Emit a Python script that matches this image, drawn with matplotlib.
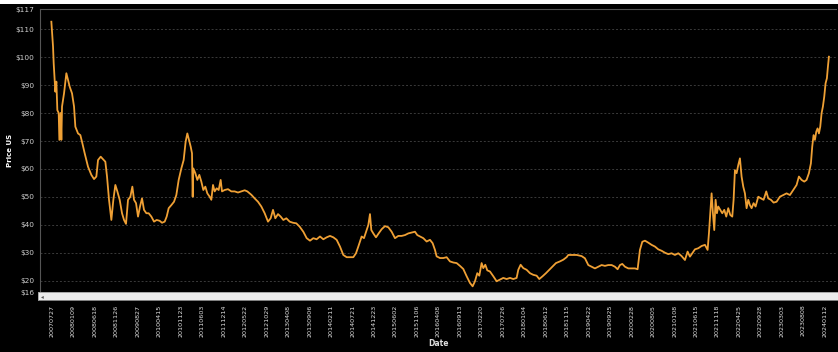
import matplotlib
matplotlib.use("Agg")
import matplotlib.pyplot as plt
from matplotlib.patches import Rectangle

# ---- data (x in units of tick-label slots, y in US$) ----
pos_a = [-0.031, 0.047, 0.078, 0.124, 0.155, 0.202, 0.248, 0.311, 0.342, 0.404, 0.435, 0.466,
         0.559, 0.668, 0.745, 0.823, 0.932, 1.025, 1.087, 1.211, 1.320, 1.413, 1.522, 1.677,
         1.832, 1.957, 2.065, 2.143, 2.267, 2.376, 2.484, 2.562, 2.655, 2.764, 2.857, 2.950,
         3.043, 3.152, 3.261, 3.354, 3.447, 3.540, 3.649, 3.742, 3.820, 3.913, 4.006, 4.099,
         4.192, 4.285, 4.394, 4.503, 4.627, 4.751, 4.875, 5.015, 5.124, 5.248, 5.341, 5.434,
         5.558, 5.682, 5.791, 5.900, 6.024, 6.132, 6.225, 6.303, 6.381, 6.459, 6.521, 6.552,
         6.583, 6.676, 6.769, 6.862, 6.955, 7.048, 7.142, 7.235, 7.344, 7.421, 7.499, 7.577,
         7.670, 7.763, 7.856, 7.918, 8.042, 8.197, 8.353, 8.508, 8.663, 8.818, 8.974, 9.098,
         9.284, 9.440, 9.595, 9.750, 9.906, 10.061, 10.185, 10.294, 10.402, 10.527, 10.651,
         10.775, 10.915, 11.070, 11.225, 11.380, 11.536]
price_a = [112.6, 103.7, 97.7, 91.8, 87.6, 91.2, 81.0, 80.0, 70.4, 80.0, 70.4, 82.3,
           87.0, 94.2, 91.8, 89.4, 87.0, 82.3, 75.1, 72.7, 72.1, 69.2, 65.6, 60.8,
           57.9, 56.4, 57.3, 63.2, 64.4, 63.5, 62.6, 57.3, 49.0, 41.8, 49.0, 54.3,
           52.0, 49.0, 44.2, 41.8, 40.4, 49.0, 50.1, 53.7, 49.0, 47.8, 43.0, 46.6,
           49.5, 45.4, 44.2, 44.2, 43.0, 41.2, 41.8, 41.5, 40.8, 41.2, 43.0, 46.0,
           47.1, 48.3, 50.7, 56.1, 60.2, 63.2, 69.8, 72.7, 70.4, 68.0, 65.6, 50.1,
           60.2, 58.5, 56.1, 57.9, 55.5, 52.5, 53.7, 51.3, 50.1, 49.0, 54.3, 52.0,
           53.1, 52.5, 56.1, 52.0, 52.5, 52.8, 52.0, 52.0, 51.6, 52.0, 52.4, 52.0,
           50.8, 49.5, 48.3, 46.6, 44.2, 41.2, 42.4, 45.4, 42.4, 43.9, 43.0,
           41.8, 42.4, 41.2, 40.8, 40.6, 39.4]

pos_b = [11.706, 11.862, 12.017, 12.172, 12.327, 12.483, 12.638, 12.793, 12.948, 13.104,
         13.259, 13.414, 13.569, 13.725, 13.880, 14.035, 14.159, 14.268, 14.423, 14.532,
         14.656, 14.734, 14.811, 14.873, 14.967, 15.091, 15.215, 15.355, 15.510, 15.665,
         15.820, 15.976, 16.131, 16.286, 16.441, 16.597, 16.752, 16.907, 17.016, 17.140,
         17.295, 17.451, 17.606, 17.730, 17.839, 17.916, 18.072, 18.227, 18.382, 18.537,
         18.693, 18.848, 19.003, 19.158, 19.314, 19.469, 19.593, 19.702, 19.810, 19.904,
         20.012, 20.090, 20.183, 20.276, 20.400, 20.556, 20.711, 20.866, 21.021, 21.177,
         21.332, 21.487, 21.642, 21.720, 21.829, 21.953, 22.108, 22.263, 22.419, 22.574,
         22.698, 22.853, 23.009, 23.164, 23.319, 23.474, 23.661, 23.816, 23.971]
price_b = [37.6, 35.3, 34.4, 35.3, 34.9, 35.9, 34.9, 35.6, 36.1, 35.6,
           34.7, 32.3, 29.3, 28.5, 28.5, 28.5, 29.9, 32.3, 35.9, 35.3,
           38.2, 40.0, 43.9, 38.2, 37.0, 35.6, 37.0, 38.5, 39.6, 39.2,
           37.6, 35.3, 36.1, 36.1, 36.4, 37.0, 37.3, 37.6, 36.4, 35.9,
           35.3, 34.1, 34.7, 33.5, 31.1, 28.8, 28.2, 28.2, 28.5, 27.0,
           26.6, 26.4, 25.4, 24.3, 21.7, 19.3, 18.1, 19.9, 22.8, 21.9,
           26.4, 24.6, 25.8, 23.8, 23.4, 21.7, 19.9, 20.5, 21.1, 20.7,
           21.1, 20.7, 21.1, 24.0, 25.8, 24.6, 24.0, 22.8, 22.2, 21.9,
           20.7, 21.7, 22.8, 24.0, 25.2, 26.4, 27.0, 27.6, 28.5]

pos_c = [24.049, 24.205, 24.437, 24.670, 24.826, 24.981, 25.136, 25.291, 25.447, 25.602,
         25.757, 25.912, 26.068, 26.223, 26.347, 26.456, 26.564, 26.689, 26.844, 26.999,
         27.154, 27.278, 27.387, 27.496, 27.620, 27.775, 27.931, 28.086, 28.241, 28.396,
         28.552, 28.707, 28.862, 29.017, 29.173, 29.328, 29.483, 29.607, 29.716, 29.825,
         29.949, 30.104, 30.259, 30.415, 30.539, 30.601, 30.663, 30.725, 30.787, 30.849,
         30.911, 30.973, 31.036, 31.129, 31.222, 31.315, 31.408, 31.501, 31.594, 31.688,
         31.750, 31.812, 31.889, 31.967, 32.045, 32.122, 32.200, 32.278, 32.355, 32.433,
         32.510, 32.588, 32.681, 32.774, 32.899, 33.023, 33.147, 33.271, 33.364, 33.488,
         33.613, 33.752, 33.907, 34.063, 34.218, 34.373, 34.528, 34.684, 34.792, 34.916,
         35.041, 35.149, 35.258, 35.351, 35.413, 35.475, 35.538, 35.600, 35.662, 35.724,
         35.786, 35.848, 35.910, 35.972, 36.034, 36.096, 36.143, 36.190]
price_c = [29.3, 29.3, 29.3, 28.9, 28.1, 25.7, 25.1, 24.5, 25.1, 25.7,
           25.4, 25.7, 25.7, 25.1, 24.2, 25.7, 26.1, 25.1, 24.5, 24.5,
           24.5, 24.2, 31.1, 34.0, 34.4, 33.7, 32.9, 32.3, 31.3, 30.8,
           30.1, 29.6, 29.9, 29.3, 29.9, 28.9, 27.5, 30.5, 28.7, 29.9,
           31.3, 31.7, 32.5, 32.9, 31.1, 37.0, 44.2, 51.3, 44.2, 38.2,
           49.0, 44.2, 46.6, 45.4, 44.2, 45.4, 43.0, 46.0, 43.6, 43.0,
           49.0, 59.6, 58.5, 61.4, 63.8, 57.3, 53.7, 51.3, 46.0, 49.0,
           47.1, 46.0, 47.8, 46.6, 50.1, 49.5, 49.0, 52.0, 49.5, 49.0,
           48.0, 48.3, 50.1, 50.7, 51.3, 50.7, 52.5, 54.3, 57.3, 56.1,
           55.5, 56.1, 58.5, 62.0, 68.0, 72.1, 70.4, 73.3, 74.5, 72.7,
           75.1, 79.9, 82.3, 85.8, 90.6, 92.4, 96.5, 100.1]

date_labels = ["20070727", "20080109", "20080618", "20081126", "20090827", "20100415",
               "20101123", "20110603", "20111214", "20120522", "20121029", "20130408",
               "20130906", "20140211", "20140721", "20141223", "20150602", "20151106",
               "20160408", "20160913", "20170220", "20170726", "20180104", "20180612",
               "20181115", "20190422", "20190925", "20200228", "20200805", "20210108",
               "20210615", "20211118", "20220425", "20220928", "20230303", "20230808",
               "20240112"]
y_ticks = [16, 20, 30, 40, 50, 60, 70, 80, 90, 100, 110, 117]

positions = pos_a + pos_b + pos_c
prices = price_a + price_b + price_c

W, H = 838, 352
fig = plt.figure(figsize=(W / 100, H / 100), dpi=100, facecolor="black")

def fx(px):
    return px / W

def fy(py):
    return 1 - py / H

left, right, top, bottom = 40, 836, 9.4, 292.2
ax = fig.add_axes([fx(left), fy(bottom), fx(right) - fx(left), fy(top) - fy(bottom)])
ax.set_facecolor("black")
ax.plot(positions, prices, color="#EFA035", lw=1.3, solid_joinstyle="round")

ax.set_ylim(16, 117)
ax.set_xlim(-0.56, 36.52)
ax.set_yticks(y_ticks)
ax.set_yticklabels([f"${v}" for v in y_ticks], color="#cfcfcf", fontsize=5.3)
ax.set_xticks(range(len(date_labels)))
ax.set_xticklabels(date_labels, rotation=90, color="#e0e0e0", fontsize=4.6)
ax.tick_params(axis="x", length=0, pad=9)
ax.tick_params(axis="y", length=0, pad=4)
ax.grid(axis="y", color="#3a3a3a", linestyle=(0, (2, 2)), linewidth=0.7)
for s in ["right", "bottom"]:
    ax.spines[s].set_visible(False)
ax.spines["left"].set_color("#555555")
ax.spines["top"].set_color("#555555")

ax.set_ylabel("Price US", color="white", fontsize=5, fontweight="bold", labelpad=2)
ax.set_xlabel("Date", color="#dddddd", fontsize=5.5, fontweight="bold", labelpad=1)

# top white strip and scrollbar decoration
fig.patches.append(Rectangle((0, fy(4)), 1, 1 - fy(4), transform=fig.transFigure,
                             facecolor="white", edgecolor="none"))
sb = fig.add_axes([fx(38), fy(300), 1 - fx(38), fy(292) - fy(300)])
sb.set_facecolor("#ececec")
sb.set_xticks([])
sb.set_yticks([])
for s in sb.spines.values():
    s.set_color("#9a9a9a")
    s.set_linewidth(0.6)
sb.text(0.006, 0.45, "\u25c2", transform=sb.transAxes, fontsize=4, color="#555555",
        ha="center", va="center")

fig.savefig("out.png", dpi=100, facecolor="black")
